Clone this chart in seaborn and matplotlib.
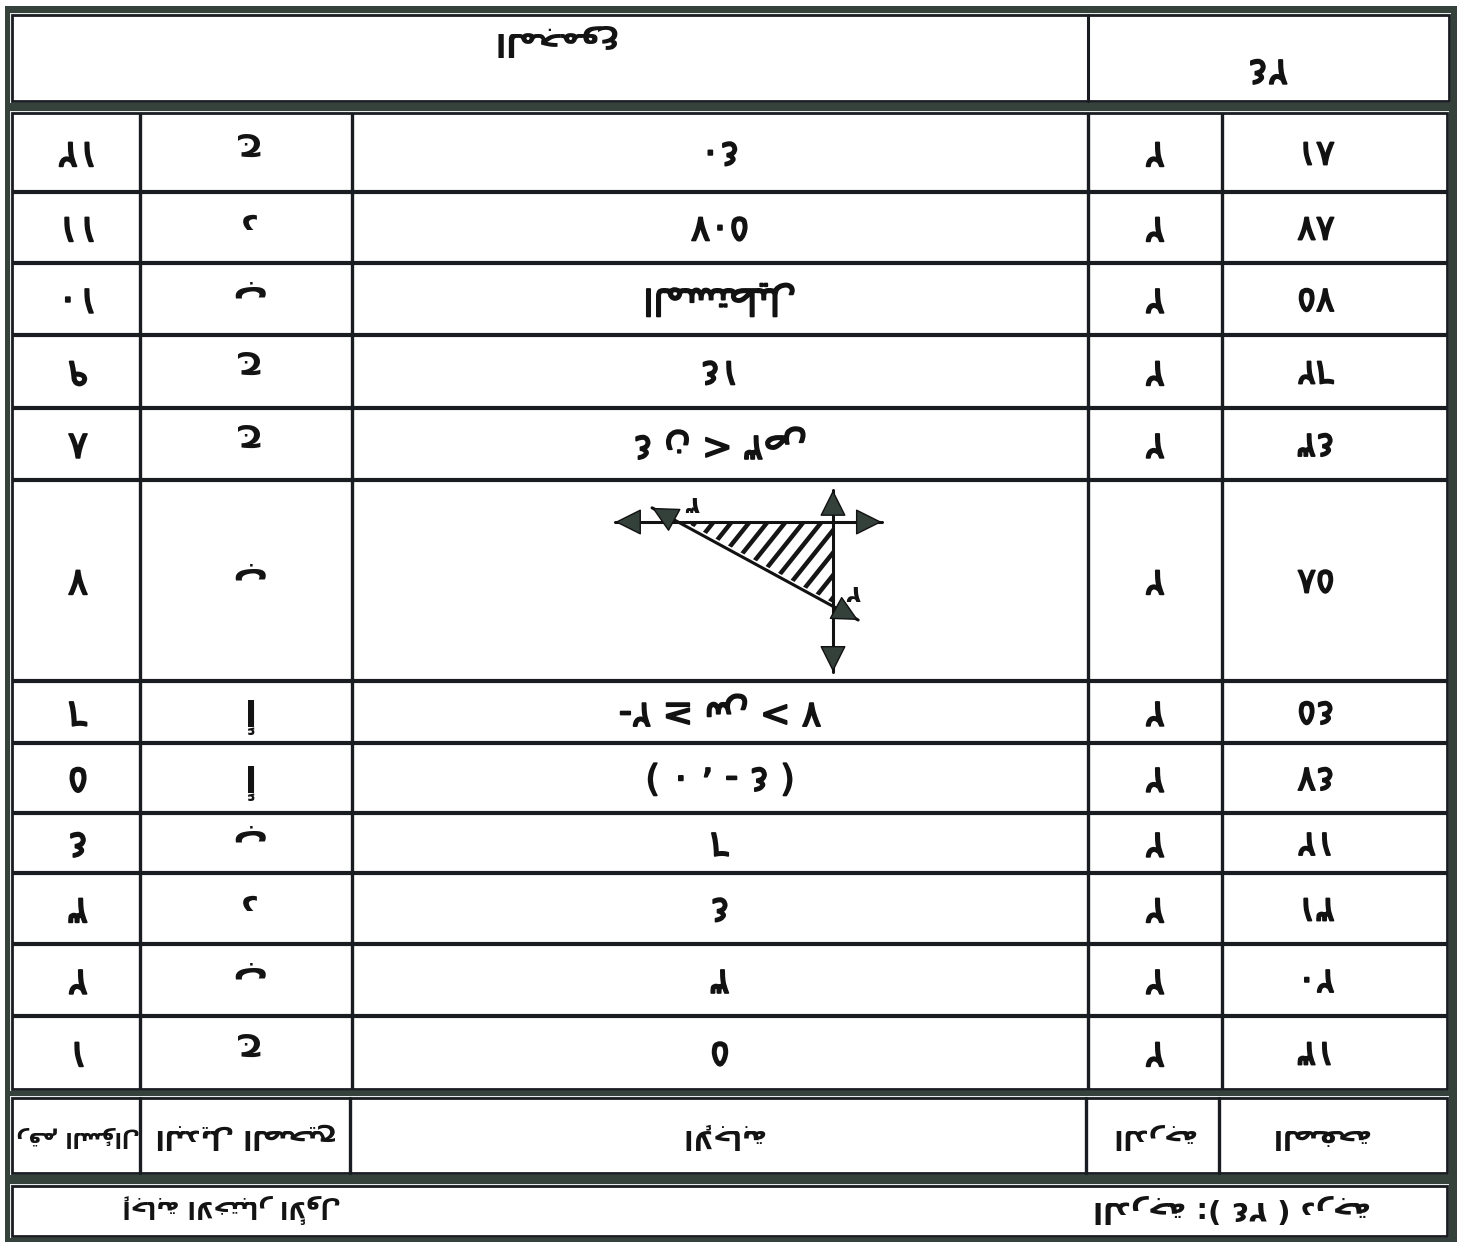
import matplotlib
matplotlib.use("Agg")
import matplotlib.pyplot as plt
import matplotlib.patheffects as pe
import numpy as np
import seaborn as sns
from matplotlib.patches import Rectangle, Polygon

# ---------------- data (upright reading order: question 1 .. 12) ----------------
question_no = ["١", "٢", "٣", "٤", "٥", "٦", "٧", "٨", "٩", "١٠", "١١", "١٢"]
answer_letter = ["ج", "ب", "د", "ب", "أ", "أ", "ب", "ج", "ج", "ب", "د", "ج"]
answer_text = ["٥", "٣", "٤", "٦", "( ٤ - ، ٠ )", "٧ > س ≥ ٢-", "", "ص٣ < ن ٤",
               "١٤", "المستطيل", "٥٠٧", "٤٠"]
score = ["٢", "٢", "٢", "٢", "٢", "٢", "٢", "٢", "٢", "٢", "٢", "٢"]
page = ["١٣", "٢٠", "٣١", "١٢", "٤٧", "٤٥", "٥٨", "٤٣", "٦٢", "٧٥", "٨٧", "٨١"]
headers = ["رقم السؤال", "البديل الصحيح", "الإجابة", "الدرجة", "الصفحة"]
total_label = "المجموع"
total_value = "٢٤"
title_start = "إجابة الاختبار الأول"
title_grade_word = "الدرجة"
title_grade_unit = "درجة"

# graph of question 7: shaded region x >= 0, y >= 0, 2x + 3y <= 6
region_x = [0, 3, 0]
region_y = [0, 0, 2]
line_x = [3.67, -0.51]
line_y = [-0.35, 2.42]
xaxis_x = [-0.99, 4.42]
yaxis_y = [-0.79, 3.70]
intercept_labels = ["٣", "٢"]

# ---------------- Arabic shaping (presentation forms, visual order) ----------------
_BASE = {
    'ء': (0xFE80, 1), 'آ': (0xFE81, 2), 'أ': (0xFE83, 2), 'ؤ': (0xFE85, 2), 'إ': (0xFE87, 2),
    'ئ': (0xFE89, 4), 'ا': (0xFE8D, 2), 'ب': (0xFE8F, 4), 'ة': (0xFE93, 2), 'ت': (0xFE95, 4),
    'ث': (0xFE99, 4), 'ج': (0xFE9D, 4), 'ح': (0xFEA1, 4), 'خ': (0xFEA5, 4), 'د': (0xFEA9, 2),
    'ذ': (0xFEAB, 2), 'ر': (0xFEAD, 2), 'ز': (0xFEAF, 2), 'س': (0xFEB1, 4), 'ش': (0xFEB5, 4),
    'ص': (0xFEB9, 4), 'ض': (0xFEBD, 4), 'ط': (0xFEC1, 4), 'ظ': (0xFEC5, 4), 'ع': (0xFEC9, 4),
    'غ': (0xFECD, 4), 'ف': (0xFED1, 4), 'ق': (0xFED5, 4), 'ك': (0xFED9, 4), 'ل': (0xFEDD, 4),
    'م': (0xFEE1, 4), 'ن': (0xFEE5, 4), 'ه': (0xFEE9, 4), 'و': (0xFEED, 2), 'ى': (0xFEEF, 2),
    'ي': (0xFEF1, 4),
}
_LAMALEF = {'ا': 0xFEFB, 'أ': 0xFEF7, 'إ': 0xFEF9, 'آ': 0xFEF5}


def _shape_word(w):
    units = []
    i = 0
    while i < len(w):
        c = w[i]
        if c == 'ل' and i + 1 < len(w) and w[i + 1] in _LAMALEF:
            units.append(('LA', _LAMALEF[w[i + 1]], 2))
            i += 2
        elif c in _BASE:
            units.append(('AR', _BASE[c][0], _BASE[c][1]))
            i += 1
        else:
            units.append(('X', c, 0))
            i += 1
    out = []
    for k, (kind, code, n) in enumerate(units):
        if kind == 'X':
            out.append(code)
            continue
        prev = units[k - 1] if k > 0 else None
        nxt = units[k + 1] if k + 1 < len(units) else None
        jp = prev is not None and prev[0] == 'AR' and prev[2] == 4
        jn = n == 4 and nxt is not None and nxt[0] in ('AR', 'LA') and nxt[2] >= 2
        if n == 1:
            g = code
        elif jp and jn:
            g = code + 3
        elif jp:
            g = code + 1
        elif jn:
            g = code + 2
        else:
            g = code
        out.append(chr(g))
    return ''.join(out)


def ar(text):
    """Arabic phrase -> shaped glyphs in visual (left-to-right) order."""
    if not any('\u0621' <= c <= '\u064A' for c in text) or any('\u0660' <= c <= '\u0669' for c in text):
        return text
    return ' '.join(_shape_word(w) for w in text.split(' '))[::-1]


# ---------------- figure ----------------
sns.set_theme(style="white")
plt.rcParams['font.family'] = ['DejaVu Sans']

W, H = 1462, 1242
fig = plt.figure(figsize=(W / 100, H / 100), dpi=100)
fig.patch.set_facecolor('white')
ax = fig.add_axes([0, 0, 1, 1])
ax.set_xlim(0, W)
ax.set_ylim(H, 0)
ax.axis('off')

INK = "#121212"
BAND = "#34423b"
RULE = "#191d22"

# page is shown rotated by 180 degrees (scanned upside down)
ax.add_patch(Rectangle((5, 6), 1452, 1236, facecolor=BAND, edgecolor='none'))
sections = [(12, 15, 1449, 101), (12, 113, 1447, 1089), (12, 1098, 1447, 1173), (12, 1186, 1447, 1236)]
for x0, y0, x1, y1 in sections:
    ax.add_patch(Rectangle((x0 - 2, y0 - 2), x1 - x0 + 4, y1 - y0 + 4, facecolor='#e9ecea', edgecolor='none'))
    ax.add_patch(Rectangle((x0, y0), x1 - x0, y1 - y0, facecolor='white', edgecolor=RULE, linewidth=2.0))

# top section divider
ax.plot([1088, 1088], [15, 101], color=RULE, lw=2.2)

# main table rules
col_edges = [12, 140, 352, 1088, 1222, 1447]
row_edges = [113, 192, 263, 335, 408, 480, 681, 743, 813, 873, 944, 1016, 1089]
for x in col_edges[1:-1]:
    ax.plot([x, x], [113, 1089], color=RULE, lw=2.4, solid_capstyle='butt')
for y in row_edges[1:-1]:
    ax.plot([12, 1447], [y, y], color=RULE, lw=3.0, solid_capstyle='butt')

head_edges = [12, 140, 350, 1086, 1219, 1447]
for x in head_edges[1:-1]:
    ax.plot([x, x], [1098, 1173], color=RULE, lw=2.4)

THICK = [pe.withStroke(linewidth=1.3, foreground=INK)]


# text helpers
def put(x, y, s, size, target=None, **kw):
    (target or ax).text(x, y, s, fontsize=size, rotation=180, rotation_mode='anchor',
                        ha='center', va='center', color=INK, **kw)


col_x = [78, 246, 720, 1155, 1316]
nrows = len(question_no)
for i in range(nrows):
    r = nrows - 1 - i            # upright row i appears at displayed row r
    yc = (row_edges[r] + row_edges[r + 1]) / 2
    put(col_x[0], yc, question_no[i], 27, path_effects=THICK)
    put(col_x[1], yc - 4, ar(answer_letter[i]), 25, fontweight='bold')
    if answer_text[i]:
        put(col_x[2], yc, ar(answer_text[i]), 26, path_effects=THICK)
    put(col_x[3], yc, score[i], 27, path_effects=THICK)
    put(col_x[4], yc, page[i], 25, path_effects=THICK)

# header row
head_x = [78, 246, 722, 1153, 1320]
head_size = [15, 19, 19, 19, 19]
for hx, h, hs in zip(head_x, headers, head_size):
    put(hx, 1136, ar(h), hs, fontweight='bold')

# top row
put(553, 40, ar(total_label), 22, fontweight='bold')
put(1268, 70, total_value, 27, path_effects=THICK)

# bottom row
put(232, 1209, ar(title_start), 17, fontweight='bold')
grade_line = ar(title_grade_unit) + " ( " + total_value + " ): " + ar(title_grade_word)
put(1232, 1209, grade_line, 21, fontweight='bold')

# ---------------- graph of question 7 (drawn upright, shown rotated) ----------------
gx0, gx1, gy0, gy1 = 590, 900, 484, 678
ox, oy = 833, 522          # origin in page pixels
ux, uy = 49.3, 40.5        # pixels per unit
gax = fig.add_axes([gx0 / W, 1 - gy1 / H, (gx1 - gx0) / W, (gy1 - gy0) / H])
gax.set_xlim((ox - gx0) / ux, (ox - gx1) / ux)
gax.set_ylim((gy1 - oy) / uy, (gy0 - oy) / uy)
gax.axis('off')
gax.patch.set_alpha(0)

# shaded region: diagonal stripes clipped to the region polygon
region = Polygon(np.column_stack([region_x, region_y]), closed=True,
                 facecolor='none', edgecolor='none', transform=gax.transData)
hatch_step, hatch_slope = 18.0, 1.25     # pixels between stripes, stripe steepness
for c in np.arange(gx0, gx1 + 300, hatch_step):
    ln, = gax.plot([c - 200, c], [gy0 + 200 * hatch_slope - 100, gy0 - 100],
                   transform=ax.transData, color='#151515', lw=3.2,
                   solid_capstyle='butt', zorder=1)
    ln.set_clip_path(region)

line_kw = dict(ax=gax, color=INK, lw=2.2, sort=False, estimator=None, errorbar=None)
sns.lineplot(x=xaxis_x, y=[0, 0], **line_kw)
sns.lineplot(x=[0, 0], y=yaxis_y, **line_kw)
sns.lineplot(x=line_x, y=line_y, **line_kw)

head = dict(arrowstyle='-|>,head_length=1.0,head_width=0.5', mutation_scale=17,
            fc='#34403a', ec='#111111', lw=1.0, shrinkA=0, shrinkB=0)
segments = [((xaxis_x[0], 0), (xaxis_x[1], 0)),
            ((0, yaxis_y[0]), (0, yaxis_y[1])),
            ((line_x[0], line_y[0]), (line_x[1], line_y[1]))]
for (xa, ya), (xb, yb) in segments:
    for (ex, ey), (sx, sy) in (((xa, ya), (xb, yb)), ((xb, yb), (xa, ya))):
        bx = ex + (sx - ex) * 0.08
        by = ey + (sy - ey) * 0.08
        gax.annotate('', xy=(ex, ey), xytext=(bx, by), arrowprops=head)

put(region_x[1] - 0.14, -0.47, intercept_labels[0], 17, target=gax, fontweight='bold')
put(-0.41, region_y[2] - 0.27, intercept_labels[1], 17, target=gax, fontweight='bold')

fig.savefig("out.png", dpi=100, facecolor='white')
